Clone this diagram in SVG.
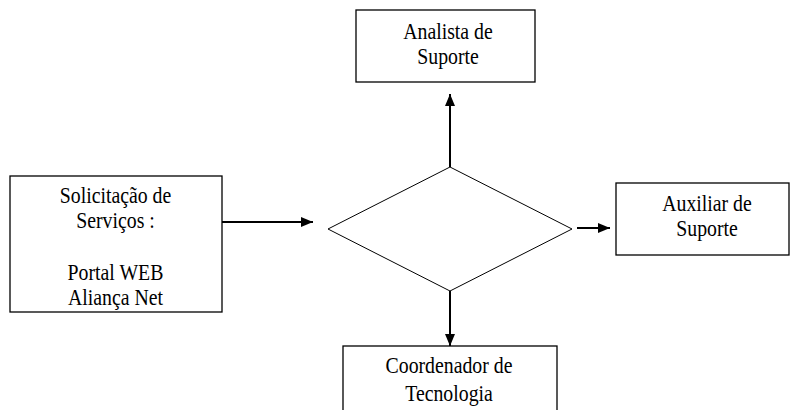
<svg xmlns="http://www.w3.org/2000/svg" width="791" height="410" viewBox="0 0 791 410">
<style>
.box{fill:#fff;stroke:#000;stroke-width:1.3}
.dia{fill:#fff;stroke:#000;stroke-width:1}
.t{font-family:"Liberation Serif","Times New Roman",serif;font-size:19.8px;fill:#000;text-anchor:middle}
.c{stroke:#000;stroke-width:2;fill:none}
</style>
<defs>
<marker id="ah" markerWidth="12" markerHeight="10" refX="12" refY="5" orient="auto" markerUnits="userSpaceOnUse">
<path d="M0,0 L12,5 L0,10 Z" fill="#000"/>
</marker>
</defs>
<rect width="791" height="410" fill="#fff"/>
<g id="connectors">
<line class="c" x1="222" y1="222" x2="313" y2="222" marker-end="url(#ah)"/>
<line class="c" x1="577" y1="228" x2="610" y2="228" marker-end="url(#ah)"/>
<line class="c" x1="450" y1="167" x2="450" y2="94" marker-end="url(#ah)"/>
<line class="c" x1="450" y1="291" x2="450" y2="346" marker-end="url(#ah)"/>
</g>
<g id="decision">
<polygon class="dia" points="450,167 572,229 450,291 328,229"/>
</g>
<g id="analista">
<rect class="box" x="356" y="10" width="179" height="72"/>
<text class="t" transform="translate(448,38.5) scale(1,1.17)">Analista de</text>
<text class="t" transform="translate(448,63.5) scale(1,1.17)">Suporte</text>
</g>
<g id="solicitacao">
<rect class="box" x="10" y="176" width="212" height="136"/>
<text class="t" transform="translate(115.5,203) scale(1,1.17)">Solicitação de</text>
<text class="t" transform="translate(115.5,228) scale(1,1.17)">Serviços :</text>
<text class="t" transform="translate(115.5,280) scale(1,1.17)">Portal WEB</text>
<text class="t" transform="translate(115.5,304.5) scale(1,1.17)">Aliança Net</text>
</g>
<g id="auxiliar">
<rect class="box" x="616" y="183" width="173" height="72"/>
<text class="t" transform="translate(707,211) scale(1,1.17)">Auxiliar de</text>
<text class="t" transform="translate(707,236) scale(1,1.17)">Suporte</text>
</g>
<g id="coordenador">
<rect class="box" x="343" y="346" width="214" height="80"/>
<text class="t" transform="translate(449,373) scale(1,1.17)">Coordenador de</text>
<text class="t" transform="translate(449,400.5) scale(1,1.17)">Tecnologia</text>
</g>
</svg>
